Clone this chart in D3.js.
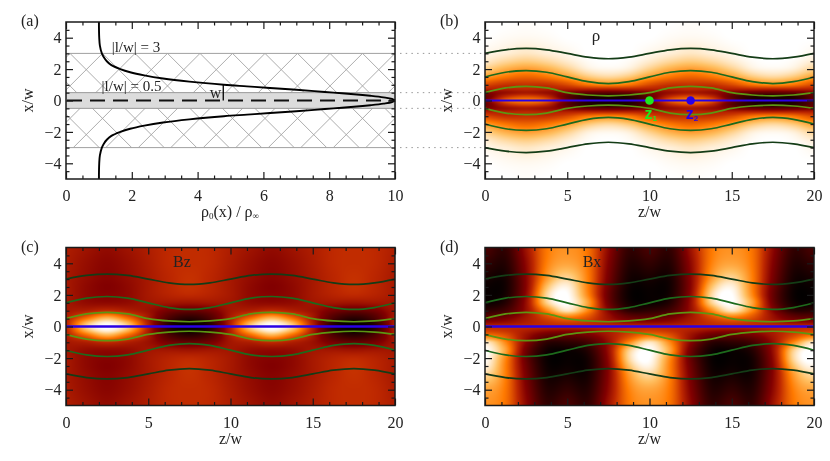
<!DOCTYPE html>
<html>
<head>
<meta charset="utf-8">
<script src="https://cdn.jsdelivr.net/npm/d3@7"></script>
<style>
html,body{margin:0;padding:0;background:#fff}
svg{display:block;filter:blur(0.35px)}
text{font-family:"Liberation Serif",serif;fill:#222}
</style>
</head>
<body>
<svg id="chart" width="830" height="461"></svg>
<script>
// ---------- data ----------
const panelNames = ["(a)", "(b)", "(c)", "(d)"];
const xTicksDensity = [0, 2, 4, 6, 8, 10];
const xMinorDensity = [0.5,1,1.5,2.5,3,3.5,4.5,5,5.5,6.5,7,7.5,8.5,9,9.5];
const zTicks = [0, 5, 10, 15, 20];
const zMinor = [1,2,3,4,6,7,8,9,11,12,13,14,16,17,18,19];
const yTicks = [-4, -2, 0, 2, 4];
const yMinor = [-4.5,-3.5,-3,-2.5,-1.5,-1,-0.5,0.5,1,1.5,2.5,3,3.5,4.5];

// Density profile, panel (a)
const profileX = [0,.1,.2,.3,.4,.5,.6,.7,.8,.9,1,1.2,1.4,1.6,1.8,2,2.25,2.5,2.75,3,3.5,4,5];
const profileRho = [10,9.91,9.65,9.25,8.75,8.13,7.55,6.89,6.2,5.5,4.8,3.75,2.95,2.38,1.95,1.65,1.38,1.24,1.15,1.09,1.03,1.01,1];
const layerEdges = [3, 0.5];

// Field lines: x positions at z = 0, 1.25, ... 20
const lineZ = [0,1.25,2.5,3.75,5,6.25,7.5,8.75,10,11.25,12.5,13.75,15,16.25,17.5,18.75,20];
const lineOuterTop = [3,3.23,3.32,3.23,3,2.76,2.66,2.76,3,3.23,3.32,3.23,3,2.76,2.66,2.76,3];
const lineMiddleTop = [1.5,1.8,1.9,1.8,1.5,1.2,1.08,1.2,1.5,1.8,1.9,1.8,1.5,1.2,1.08,1.2,1.5];
const lineInnerTop = [.5,.8,.9,.8,.5,.35,.3,.35,.5,.8,.9,.8,.5,.35,.3,.35,.5];
const lineOuterBottom = [-3,-3.23,-3.32,-3.23,-3,-2.76,-2.66,-2.76,-3,-3.23,-3.32,-3.23,-3,-2.76,-2.66,-2.76,-3];
const lineMiddleBottom = [-1.5,-1.8,-1.9,-1.8,-1.5,-1.2,-1.08,-1.2,-1.5,-1.8,-1.9,-1.8,-1.5,-1.2,-1.08,-1.2,-1.5];
const lineInnerBottom = [-.5,-.8,-.9,-.8,-.5,-.35,-.3,-.35,-.5,-.8,-.9,-.8,-.5,-.35,-.3,-.35,-.5];

// Marked points in (b)
const markerNames = ["z", "z"];
const markerSubs = ["1", "2"];
const markerZ = [10, 12.5];

// Image levels (position in the colour table), one period z = 0..10
const gridZ = [0,1.25,2.5,3.75,5,6.25,7.5,8.75,10];
const gridX = [5,4,3,2.5,2,1.5,1,.75,.5,.25,0,-.25,-.5,-.75,-1,-1.5,-2,-2.5,-3,-4,-5];
const rhoLevels = [
 [1,1,.995,1,1,1,1,1,1],
 [1,.99,.985,.99,1,1,1,1,1],
 [.98,.96,.94,.96,.98,1,1,1,.98],
 [.95,.9,.87,.9,.95,.99,1,.99,.95],
 [.88,.8,.76,.8,.88,.96,.98,.96,.88],
 [.76,.68,.64,.68,.76,.86,.9,.86,.76],
 [.58,.52,.52,.52,.58,.68,.72,.68,.58],
 [.48,.48,.5,.48,.48,.5,.5,.5,.48],
 [.34,.4,.44,.4,.34,.28,.26,.28,.34],
 [.26,.5,.58,.5,.24,.1,.08,.1,.26],
 [.3,.62,.7,.62,.3,.1,.06,.1,.3],
 [.26,.5,.58,.5,.24,.1,.08,.1,.26],
 [.34,.4,.44,.4,.34,.28,.26,.28,.34],
 [.48,.48,.5,.48,.48,.5,.5,.5,.48],
 [.58,.52,.52,.52,.58,.68,.72,.68,.58],
 [.76,.68,.64,.68,.76,.86,.9,.86,.76],
 [.88,.8,.76,.8,.88,.96,.98,.96,.88],
 [.95,.9,.87,.9,.95,.99,1,.99,.95],
 [.98,.96,.94,.96,.98,1,1,1,.98],
 [1,.99,.985,.99,1,1,1,1,1],
 [1,1,.995,1,1,1,1,1,1]
];
const bzLevels = [
 [.46,.42,.39,.42,.46,.5,.51,.5,.46],
 [.45,.4,.37,.4,.45,.5,.51,.5,.45],
 [.44,.39,.36,.39,.44,.49,.52,.49,.44],
 [.44,.38,.35,.38,.44,.49,.52,.49,.44],
 [.44,.38,.36,.38,.44,.48,.5,.48,.44],
 [.43,.39,.38,.39,.43,.43,.42,.43,.43],
 [.43,.46,.5,.46,.41,.32,.28,.32,.43],
 [.44,.56,.68,.56,.43,.25,.18,.25,.44],
 [.46,.68,.84,.68,.44,.2,.1,.2,.46],
 [.47,.82,.97,.82,.46,.12,.03,.12,.47],
 [.48,.88,1,.88,.48,.1,0,.1,.48],
 [.47,.82,.97,.82,.46,.12,.03,.12,.47],
 [.46,.68,.84,.68,.44,.2,.1,.2,.46],
 [.44,.56,.68,.56,.43,.25,.18,.25,.44],
 [.43,.46,.5,.46,.41,.32,.28,.32,.43],
 [.43,.39,.38,.39,.43,.43,.42,.43,.43],
 [.44,.38,.36,.38,.44,.48,.5,.48,.44],
 [.44,.38,.35,.38,.44,.49,.52,.49,.44],
 [.44,.39,.36,.39,.44,.49,.52,.49,.44],
 [.45,.4,.37,.4,.45,.5,.51,.5,.45],
 [.46,.42,.39,.42,.46,.5,.51,.5,.46]
];
const bxLevels = [
 [.2,.14,.42,.68,.74,.67,.38,.14,.2],
 [.13,.1,.38,.7,.78,.68,.35,.1,.13],
 [.06,.06,.36,.76,.9,.7,.32,.06,.06],
 [.03,.05,.36,.84,.97,.7,.3,.04,.03],
 [.02,.06,.38,.9,1,.72,.28,.03,.02],
 [.03,.1,.4,.88,1,.78,.3,.05,.03],
 [.12,.18,.4,.72,.94,.72,.36,.12,.12],
 [.2,.25,.42,.62,.78,.64,.4,.22,.2],
 [.28,.33,.44,.56,.64,.58,.42,.3,.28],
 [.38,.4,.46,.52,.55,.52,.46,.4,.38],
 [.5,.5,.5,.5,.5,.5,.5,.5,.5],
 [.55,.52,.46,.4,.38,.4,.46,.52,.55],
 [.64,.58,.42,.3,.28,.33,.44,.56,.64],
 [.78,.64,.4,.22,.2,.25,.42,.62,.78],
 [.94,.72,.36,.12,.12,.18,.4,.72,.94],
 [1,.78,.3,.05,.03,.1,.4,.88,1],
 [1,.72,.28,.03,.02,.06,.38,.9,1],
 [.97,.7,.3,.04,.03,.05,.36,.84,.97],
 [.9,.7,.32,.06,.06,.06,.36,.76,.9],
 [.78,.68,.35,.1,.13,.1,.38,.7,.78],
 [.74,.67,.38,.14,.2,.14,.42,.68,.74]
];
const colourStops = [0,.2,.35,.5,.69,.84,1];
const colourTable = ["#000000","#4a0000","#820000","#be2800","#ff7a00","#ffc062","#ffffff"];

// ---------- drawing ----------
const svg = d3.select("#chart");
const colour = d3.scaleLinear().domain(colourStops).range(colourTable).clamp(true);
const frames = [
  {l:66,  r:395, t:22,    b:179},
  {l:485, r:814, t:22,    b:179},
  {l:66,  r:395, t:247.5, b:405.5},
  {l:485, r:814, t:247.5, b:405.5}
];
const ink = "#1a1a1a";

function catmull(p0,p1,p2,p3,t){
  return 0.5*((2*p1)+(-p0+p2)*t+(2*p0-5*p1+4*p2-p3)*t*t+(-p0+3*p1-3*p2+p3)*t*t*t);
}
function drawField(f, levels){
  const w = Math.round(f.r-f.l), h = Math.round(f.b-f.t);
  const cv = document.createElement("canvas"); cv.width=w; cv.height=h;
  const c = cv.getContext("2d"), img = c.createImageData(w,h);
  const zs = d3.scaleLinear().domain([0,20]).range([0,w]);
  const xs = d3.scaleLinear().domain([-5,5]).range([h,0]);
  const rowIdx = d3.scaleLinear().domain(gridX).range(gridX.map((_,i)=>i)).clamp(true);
  const n = gridZ.length-1;             // columns in one period
  for(let py=0;py<h;py++){
    const ry = rowIdx(xs.invert(py+.5));
    const j = Math.min(Math.floor(ry), gridX.length-2), tj = ry-j;
    for(let px=0;px<w;px++){
      const z = zs.invert(px+.5)%10;
      const cx = z/1.25, i = Math.floor(cx), ti = cx-i;
      const col = r=>{
        const row = levels[Math.max(0,Math.min(gridX.length-1,r))];
        const at = k=>row[((k%n)+n)%n];
        return catmull(at(i-1),at(i),at(i+1),at(i+2),ti);
      };
      const v = catmull(col(j-1),col(j),col(j+1),col(j+2),tj);
      const rgb = d3.rgb(colour(Math.max(0,Math.min(1,v))));
      const o = (py*w+px)*4;
      img.data[o]=rgb.r; img.data[o+1]=rgb.g; img.data[o+2]=rgb.b; img.data[o+3]=255;
    }
  }
  c.putImageData(img,0,0);
  return svg.append("image").attr("x",f.l).attr("y",f.t).attr("width",f.r-f.l).attr("height",f.b-f.t)
    .attr("preserveAspectRatio","none").attr("href",cv.toDataURL());
}
function axes(f, xScale, major, minor, yScale){
  const fmt = d=>String(d).replace("-","\u2212");
  const sets = [
    [d3.axisBottom(xScale), `translate(0,${f.b})`, major, minor, 11],
    [d3.axisTop(xScale),    `translate(0,${f.t})`, major, minor, 0],
    [d3.axisLeft(yScale),   `translate(${f.l},0)`, yTicks, yMinor, 4.5],
    [d3.axisRight(yScale),  `translate(${f.r},0)`, yTicks, yMinor, 0]
  ];
  sets.forEach(([ax,tr,maj,mn,pad])=>{
    const a = svg.append("g").attr("transform",tr);
    a.call(ax.tickValues(mn).tickSize(-3.5).tickFormat(""));
    a.select(".domain").remove();
    a.selectAll(".tick line").attr("stroke",ink).attr("stroke-width",1.2);
    const g = svg.append("g").attr("transform",tr);
    g.call(ax.tickValues(maj).tickSize(-7).tickPadding(pad).tickFormat(pad?fmt:""));
    g.select(".domain").remove();
    g.selectAll(".tick line").attr("stroke",ink).attr("stroke-width",1.2);
    g.selectAll("text").attr("font-size",16).attr("font-family","Liberation Serif").attr("fill","#222");
  });
  svg.append("rect").attr("x",f.l).attr("y",f.t).attr("width",f.r-f.l).attr("height",f.b-f.t)
    .attr("fill","none").attr("stroke",ink).attr("stroke-width",1.5);
}
function txt(x,y,s,opt={}){
  return svg.append("text").attr("x",x).attr("y",y).attr("font-size",opt.size||15)
    .attr("text-anchor",opt.anchor||"middle").attr("transform",opt.rot?`rotate(-90 ${x} ${y})`:null).text(s);
}
function fieldLines(f, xScale, yScale, centreWidth){
  const line = d3.line().x((_,i)=>xScale(lineZ[i])).y(d=>yScale(d)).curve(d3.curveCatmullRom);
  [[lineOuterTop,"#143c16"],[lineOuterBottom,"#143c16"],
   [lineMiddleTop,"#1d6a1c"],[lineMiddleBottom,"#1d6a1c"],
   [lineInnerTop,"#5c9612"],[lineInnerBottom,"#5c9612"]].forEach(([d,c])=>{
     svg.append("path").attr("d",line(d)).attr("fill","none").attr("stroke",c).attr("stroke-width",1.7);
  });
  svg.append("line").attr("x1",xScale(0)).attr("x2",xScale(20)).attr("y1",yScale(0)).attr("y2",yScale(0))
    .attr("stroke","#2a00e6").attr("stroke-width",centreWidth);
}

// Panel (a)
{
  const f = frames[0];
  const xS = d3.scaleLinear().domain([0,10]).range([f.l,f.r]);
  const yS = d3.scaleLinear().domain([-5,5]).range([f.b,f.t]);
  svg.append("clipPath").attr("id","hatchClip").append("rect")
    .attr("x",f.l).attr("y",yS(layerEdges[0])).attr("width",f.r-f.l).attr("height",yS(-layerEdges[0])-yS(layerEdges[0]));
  const hatch = svg.append("g").attr("clip-path","url(#hatchClip)");
  const hh = yS(-layerEdges[0])-yS(layerEdges[0]);
  d3.range(-6,14).forEach(k=>{
    const x0 = f.l+4+k*32.5;
    hatch.append("line").attr("x1",x0).attr("x2",x0+hh).attr("y1",yS(3)).attr("y2",yS(-3));
    hatch.append("line").attr("x1",x0).attr("x2",x0-hh).attr("y1",yS(3)).attr("y2",yS(-3));
  });
  hatch.selectAll("line").attr("stroke","#a4a4a4").attr("stroke-width",.9);
  svg.append("rect").attr("x",f.l).attr("width",f.r-f.l).attr("y",yS(layerEdges[1])).attr("height",yS(-layerEdges[1])-yS(layerEdges[1]))
    .attr("fill","#dcdcdc");
  [layerEdges[0],-layerEdges[0]].forEach(e=>svg.append("line").attr("x1",f.l).attr("x2",f.r).attr("y1",yS(e)).attr("y2",yS(e)).attr("stroke","#a0a0a0").attr("stroke-width",1));
  [layerEdges[1],-layerEdges[1]].forEach(e=>svg.append("line").attr("x1",f.l).attr("x2",f.r).attr("y1",yS(e)).attr("y2",yS(e)).attr("stroke","#999").attr("stroke-width",1));
  svg.append("line").attr("x1",f.l+1).attr("x2",f.r).attr("y1",yS(0)).attr("y2",yS(0))
    .attr("stroke","#111").attr("stroke-width",1.9).attr("stroke-dasharray","15 8");
  const pts = profileX.map((x,i)=>[x,profileRho[i]]);
  const curve = d3.line().x(d=>xS(d[1])).y(d=>yS(d[0])).curve(d3.curveCatmullRom);
  svg.append("path").attr("d",curve(pts)).attr("fill","none").attr("stroke","#000").attr("stroke-width",1.9);
  svg.append("path").attr("d",curve(pts.map(d=>[-d[0],d[1]]))).attr("fill","none").attr("stroke","#000").attr("stroke-width",1.9);
  svg.append("line").attr("x1",xS(4.78)).attr("x2",xS(4.78)).attr("y1",yS(1)).attr("y2",yS(0)).attr("stroke","#000").attr("stroke-width",1.3);
  axes(f,xS,xTicksDensity,xMinorDensity,yS);
  txt(136,52,"|l/w| = 3",{size:15});
  txt(131.5,90.5,"|l/w| = 0.5",{size:15});
  txt(215.5,98,"w",{size:16});
  const lab = txt(230,217,"",{size:16});
  lab.append("tspan").text("\u03c1");
  lab.append("tspan").attr("font-size",9).attr("dy",2).text("0");
  lab.append("tspan").attr("dy",-2).text("(x) / \u03c1");
  lab.append("tspan").attr("font-size",9).attr("dy",2).text("\u221e");
}
// Panels (b), (c), (d)
[[1,rhoLevels,1.8],[2,bzLevels,2.3],[3,bxLevels,2.3]].forEach(([idx,levels,bw])=>{
  const f = frames[idx];
  drawField(f,levels);
  const xS = d3.scaleLinear().domain([0,20]).range([f.l,f.r]);
  const yS = d3.scaleLinear().domain([-5,5]).range([f.b,f.t]);
  fieldLines(f,xS,yS,bw);
  if(idx===1){
    const cols = ["#1fe81f","#2a00e6"];
    markerZ.forEach((z,i)=>{
      svg.append("path").attr("d",d3.symbol(d3.symbolCircle,58)())
        .attr("transform",`translate(${xS(z)},${yS(0)})`).attr("fill",cols[i]);
      const t = svg.append("text").attr("x",xS(z)-5).attr("y",yS(0)+18.5)
        .attr("font-size",16).attr("font-weight","bold").style("font-family","Liberation Sans").style("fill",cols[i]);
      t.append("tspan").text(markerNames[i]);
      t.append("tspan").attr("font-size",8).attr("dy",2).text(markerSubs[i]);
    });
  }
  axes(f,xS,zTicks,zMinor,yS);
  txt((f.l+f.r)/2,f.b+38,"z/w",{size:16});
});
// Panel annotations
txt(596,41,"\u03c1",{size:17});
txt(182,267,"Bz",{size:16});
txt(592,267,"Bx",{size:16});
// Axis titles and letters
frames.forEach((f,i)=>{
  txt(f.l-33,(f.t+f.b)/2,"x/w",{size:16,rot:true});
  txt(f.l-45,i<2?26:252,panelNames[i],{size:16,anchor:"start"});
});
// Guides between (a) and (b)
{
  const f = frames[0];
  const yS = d3.scaleLinear().domain([-5,5]).range([f.b,f.t]);
  [3,.5,-.5,-3].forEach(e=>svg.append("line").attr("x1",400).attr("x2",482).attr("y1",yS(e)).attr("y2",yS(e))
    .attr("stroke","#999").attr("stroke-width",1).attr("stroke-dasharray","1.5 4.2"));
}
</script>
</body>
</html>
